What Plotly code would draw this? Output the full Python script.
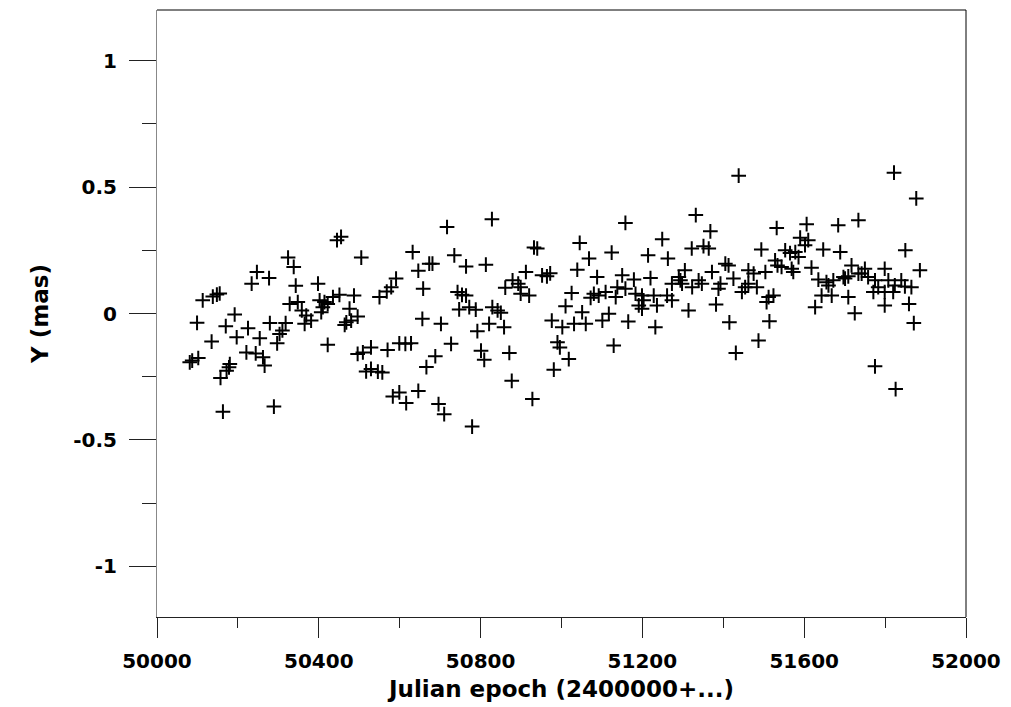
import plotly.graph_objects as go

# Julian epoch (MJD offsets, 2400000+...) and Y (mas) values
epoch = [
    50324, 50338, 50247, 50277, 50234, 50343, 50138, 50148, 50155, 50113,
    50328, 50348, 50358, 50192, 50099, 50170, 50225, 50279, 50318, 50310,
    50303, 50197, 50254, 50135, 50297, 50221, 50244, 50262, 50266, 50087,
    50081, 50102, 50180, 50178, 50172, 50157, 50163, 50289,
    50445, 50455, 50505, 50632, 50591, 50579, 50568, 50550, 50398, 50451,
    50435, 50487, 50402, 50414, 50422, 50410, 50406, 50369, 50365, 50381,
    50476, 50496, 50468, 50464, 50480, 50658, 50656, 50422, 50496, 50509,
    50529, 50570, 50599, 50614, 50628, 50517, 50529, 50546, 50557, 50583,
    50599, 50616, 50646, 50666,
    50828, 50717, 50932, 50940, 50735, 50764, 50813, 50673, 50681, 50646,
    50912, 50952, 50964, 50972, 50879, 50893, 50899, 50861, 50899, 50920,
    50743, 50754, 50764, 50772, 50747, 50788, 50829, 50842, 50850, 50702,
    50821, 50792, 50858, 50727, 50801, 50809, 50871, 50688, 50877, 50928,
    50696, 50710, 50779,
    51158, 51045, 51124, 51068, 51214, 51249, 51039, 51088, 51150, 51179,
    51220, 51025, 51010, 51080, 51092, 51109, 51072, 51138, 51134, 51158,
    51183, 51199, 51203, 51228, 51191, 51199, 51236, 51051, 51060, 51031,
    51002, 50976, 51101, 51117, 51165, 51232, 50990, 50996, 51129, 51018,
    50981,
    51438, 51332, 51368, 51532, 51263, 51322, 51351, 51364, 51494, 51528,
    51534, 51305, 51372, 51405, 51413, 51462, 51475, 51504, 51290, 51294,
    51298, 51273, 51323, 51339, 51347, 51393, 51388, 51425, 51454, 51446,
    51483, 51462, 51261, 51273, 51524, 51512, 51507, 51314, 51382, 51415,
    51514, 51487, 51431,
    51822, 51606, 51684, 51734, 51590, 51610, 51602, 51647, 51689, 51553,
    51565, 51578, 51586, 51544, 51569, 51573, 51618, 51717, 51750, 51742,
    51799, 51635, 51655, 51660, 51672, 51697, 51701, 51709, 51734, 51758,
    51775, 51783, 51808, 51824, 51840, 51771, 51799, 51820, 51643, 51668,
    51709, 51627, 51725, 51799, 51850, 51775, 51826,
    51877, 51886, 51865, 51849, 51859, 51871,
]

y_mas = [
    0.221, 0.184, 0.164, 0.140, 0.118, 0.110, 0.067, 0.075, 0.079, 0.052,
    0.038, 0.045, 0.012, -0.004, -0.037, -0.050, -0.058, -0.038, -0.038, -0.067,
    -0.081, -0.094, -0.098, -0.111, -0.118, -0.154, -0.158, -0.173, -0.206, -0.186,
    -0.193, -0.176, -0.200, -0.213, -0.226, -0.255, -0.388, -0.368,
    0.290, 0.303, 0.221, 0.243, 0.138, 0.104, 0.087, 0.065, 0.118, 0.074,
    0.065, 0.071, 0.052, 0.045, 0.038, 0.025, 0.005, -0.008, -0.041, -0.028,
    0.019, -0.012, -0.035, -0.045, -0.028, 0.098, -0.021, -0.124, -0.160, -0.154,
    -0.134, -0.144, -0.118, -0.120, -0.118, -0.229, -0.219, -0.230, -0.233, -0.328,
    -0.312, -0.354, -0.306, -0.212,
    0.373, 0.342, 0.261, 0.257, 0.230, 0.186, 0.193, 0.197, 0.197, 0.169,
    0.164, 0.151, 0.147, 0.159, 0.131, 0.118, 0.104, 0.102, 0.078, 0.071,
    0.085, 0.074, 0.071, 0.025, 0.016, 0.015, 0.025, 0.012, 0.003, -0.041,
    -0.041, -0.070, -0.054, -0.120, -0.147, -0.183, -0.156, -0.169, -0.266, -0.338,
    -0.358, -0.398, -0.447,
    0.358, 0.279, 0.241, 0.217, 0.230, 0.294, 0.173, 0.144, 0.151, 0.134,
    0.140, 0.081, 0.029, 0.078, 0.071, 0.085, 0.062, 0.104, 0.065, 0.098,
    0.078, 0.071, 0.052, 0.071, 0.032, 0.019, 0.032, 0.005, -0.041, -0.041,
    -0.054, -0.028, -0.028, -0.001, -0.032, -0.054, -0.114, -0.134, -0.127, -0.180,
    -0.222,
    0.545, 0.389, 0.325, 0.338, 0.217, 0.257, 0.266, 0.257, 0.253, 0.210,
    0.190, 0.171, 0.164, 0.197, 0.190, 0.171, 0.158, 0.164, 0.144, 0.131,
    0.118, 0.118, 0.104, 0.131, 0.118, 0.118, 0.098, 0.138, 0.104, 0.085,
    0.104, 0.118, 0.071, 0.052, 0.071, 0.065, 0.045, 0.012, 0.036, -0.035,
    -0.031, -0.107, -0.156,
    0.557, 0.353, 0.349, 0.369, 0.300, 0.290, 0.270, 0.253, 0.243, 0.250,
    0.239, 0.243, 0.223, 0.184, 0.177, 0.164, 0.181, 0.190, 0.177, 0.158,
    0.177, 0.134, 0.124, 0.111, 0.131, 0.144, 0.138, 0.147, 0.158, 0.144,
    0.131, 0.104, 0.131, 0.111, 0.131, 0.085, 0.085, 0.085, 0.071, 0.071,
    0.065, 0.025, 0.001, 0.032, 0.250, -0.209, -0.299,
    0.455, 0.171, 0.104, 0.107, 0.038, -0.038,
]

x_tick_vals = [50000, 50400, 50800, 51200, 51600, 52000]
x_tick_text = ["50000", "50400", "50800", "51200", "51600", "52000"]
y_tick_vals = [-1, -0.5, 0, 0.5, 1]
y_tick_text = ["-1", "-0.5", "0", "0.5", "1"]

FONT = "DejaVu Sans"

fig = go.Figure()
fig.add_trace(go.Scatter(
    x=epoch, y=y_mas, mode="markers",
    marker=dict(symbol="cross-thin", size=10.5, color="black",
                line=dict(width=2, color="black")),
    showlegend=False, hoverinfo="skip",
))

fig.update_layout(
    width=1011, height=707,
    margin=dict(l=157, r=43, t=10, b=90),
    paper_bgcolor="white", plot_bgcolor="white",
    font=dict(family=FONT, color="black"),
    xaxis=dict(
        range=[50000, 52000], tickmode="array",
        tickvals=x_tick_vals, ticktext=x_tick_text,
        ticks="outside", ticklen=20, tickwidth=1, tickcolor="#222",
        showline=True, linecolor="#222", linewidth=1,
        showgrid=False, zeroline=False,
        tickfont=dict(family=FONT, size=20, color="black", weight="bold"),
        ticklabelstandoff=6,
        minor=dict(dtick=200, tick0=50000, ticks="outside", ticklen=10,
                   tickcolor="#222", showgrid=False),
        title=dict(text="Julian epoch (2400000+...)",
                   font=dict(family=FONT, size=23, color="black", weight="bold"),
                   standoff=8),
    ),
    yaxis=dict(
        range=[-1.2, 1.2], tickmode="array",
        tickvals=y_tick_vals, ticktext=y_tick_text,
        ticks="outside", ticklen=27, tickwidth=1, tickcolor="#222",
        showline=True, linecolor="#888", linewidth=1,
        showgrid=False, zeroline=False,
        tickfont=dict(family=FONT, size=20, color="black", weight="bold"),
        ticklabelstandoff=8,
        minor=dict(dtick=0.25, tick0=0, ticks="outside", ticklen=14,
                   tickcolor="#222", showgrid=False),
        title=dict(text="Y (mas)",
                   font=dict(family=FONT, size=23, color="black", weight="bold"),
                   standoff=18),
    ),
    shapes=[
        dict(type="line", xref="paper", yref="paper", x0=0, x1=1, y0=1, y1=1,
             line=dict(color="black", width=1)),
        dict(type="line", xref="paper", yref="paper", x0=1, x1=1, y0=0, y1=1,
             line=dict(color="black", width=1)),
    ],
)

fig.write_html(
    "out.html",
    config={"displayModeBar": False},
    post_script="document.body.style.margin='0';document.body.style.overflow='hidden';",
)
